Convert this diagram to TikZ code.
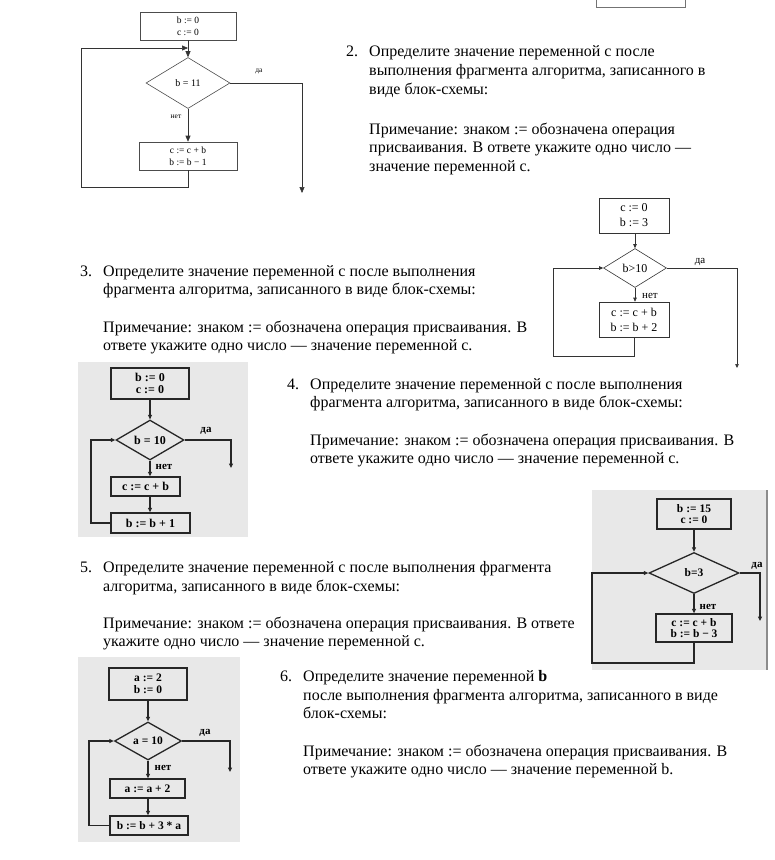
\documentclass[tikz,border=0pt]{standalone}
\usepackage{fontspec}
\setmainfont{Liberation Serif}
\usetikzlibrary{arrows.meta,shapes.geometric}

\tikzset{
  ln/.style={anchor=base west, inner sep=0pt, font=\fontsize{16}{18}\selectfont},
  scan/.style={fill=black!9, draw=none},
  % thin printed charts
  boxA/.style={rectangle, draw=black!70, line width=0.6pt, inner sep=0pt, align=center, font=\fontsize{9.5}{11.7}\selectfont},
  diaA/.style={diamond, draw=black!70, line width=0.6pt, inner sep=0pt, font=\fontsize{10}{11}\selectfont},
  arrA/.style={-{Triangle[length=6pt,width=5pt]}, line width=0.6pt, draw=black!80},
  boxB/.style={rectangle, draw=black!80, line width=0.6pt, inner sep=0pt, align=center, font=\fontsize{12}{15}\selectfont},
  diaB/.style={diamond, draw=black!80, line width=0.6pt, inner sep=0pt, font=\fontsize{12}{13}\selectfont},
  arrB/.style={-{Triangle[length=4pt,width=3.5pt]}, line width=0.6pt, draw=black!80},
  % scanned charts
  boxC/.style={rectangle, draw=black!85, line width=1.3pt, inner sep=0pt, align=center, font=\bfseries\fontsize{12}{12}\selectfont},
  diaC/.style={diamond, draw=black!85, line width=1.3pt, inner sep=0pt, font=\bfseries\fontsize{12}{13}\selectfont},
  boxD/.style={rectangle, draw=black!85, line width=1.3pt, inner sep=0pt, align=center, font=\bfseries\fontsize{11.5}{11.5}\selectfont},
  diaD/.style={diamond, draw=black!85, line width=1.3pt, inner sep=0pt, font=\bfseries\fontsize{11.5}{12}\selectfont},
  arrC/.style={-{Triangle[length=4.5pt,width=4pt]}, line width=1.1pt, draw=black!85},
  lbl/.style={inner sep=0pt, font=\fontsize{7.5}{8}\selectfont},
  lblB/.style={inner sep=0pt, font=\fontsize{11}{12}\selectfont},
  lblC/.style={inner sep=0pt, font=\bfseries\fontsize{11}{12}\selectfont}
}

\begin{document}
\begin{tikzpicture}[x=1pt, y=-1pt]
\useasboundingbox (0,0) rectangle (775,860);

% cut-off box at the top
\draw[black!55, line width=0.6pt] (596,-10) rectangle (685,7);

% scanned backgrounds
\fill[scan] (78,362) rectangle (248,537);
\fill[scan] (592,490) rectangle (768,670);
\draw[black!45, line width=2pt] (767,490) -- (767,670);
\fill[scan] (78,657) rectangle (240,842);

% ---- chart 1
\node[boxA, minimum width=96pt, minimum height=28pt] (b1a) at (188,26) {b := 0\\c := 0};
\node[diaA, minimum width=84pt, minimum height=51pt] (d1) at (188,83) {b = 11};
\node[boxA, minimum width=98pt, minimum height=28pt] (b1b) at (188,156) {c := c + b\\b := b − 1};
\coordinate (l1a) at (81,187);
\coordinate (l1b) at (188,48);
\coordinate (e1) at (302,193);
\draw[arrA] (b1a) -- (d1);
\draw[arrA] (d1) -- (b1b);
\draw[arrA] (b1b.south) |- (l1a) |- (l1b);
\draw[arrA] (d1.east) -| (e1);
\node[lbl] (y1) at (259,71) {да};
\node[lbl] (n1) at (176,117) {нет};

% ---- chart 2
\node[boxB, minimum width=70pt, minimum height=35pt] (b2a) at (634,215.5) {c := 0\\b := 3};
\node[diaB, minimum width=63pt, minimum height=39pt] (d2) at (635,268) {b>10};
\node[boxB, minimum width=70pt, minimum height=35pt] (b2b) at (634,319.5) {c := c + b\\b := b + 2};
\coordinate (l2a) at (553,356);
\coordinate (e2) at (737,368);
\draw[arrB] (b2a.south -| d2.north) -- (d2.north);
\draw[arrB] (d2.south) -- (d2.south |- b2b.north);
\draw[arrB] (b2b.south) |- (l2a) |- (d2.west);
\draw[arrB] (d2.east) -| (e2);
\node[lblB] (y2) at (700,262) {да};
\node[lblB] (n2) at (650,296) {нет};

% ---- chart 3
\node[boxC, minimum width=78pt, minimum height=31pt] (b3a) at (150,383.5) {b := 0\\c := 0};
\node[diaC, minimum width=68pt, minimum height=38pt] (d3) at (150,440) {b = 10};
\node[boxC, minimum width=69pt, minimum height=19pt] (b3b) at (145.5,486.5) {c := c + b};
\node[boxC, minimum width=79pt, minimum height=20pt] (b3c) at (150.5,523) {b := b + 1};
\coordinate (l3) at (91,523);
\coordinate (e3) at (231,468);
\draw[arrC] (b3a) -- (d3);
\draw[arrC] (d3.south) -- (d3.south |- b3b.north);
\draw[arrC] (d3.south |- b3b.south) -- (d3.south |- b3c.north);
\draw[arrC] (b3c.west) -- (l3) |- (d3.west);
\draw[arrC] (d3.east) -| (e3);
\node[lblC] (y3) at (206,431) {да};
\node[lblC] (n3) at (164,467) {нет};

% ---- chart 4
\node[boxD, minimum width=74pt, minimum height=30pt] (b4a) at (694,514) {b := 15\\c := 0};
\node[diaD, minimum width=90pt, minimum height=41pt] (d4) at (694,573) {b=3};
\node[boxD, minimum width=76pt, minimum height=28pt] (b4b) at (694,628) {c := c + b\\b := b − 3};
\coordinate (l4) at (592,663);
\coordinate (e4) at (760,621);
\draw[arrC] (b4a) -- (d4);
\draw[arrC] (d4) -- (b4b);
\draw[arrC] (b4b.south) |- (l4) |- (d4.west);
\draw[arrC] (d4.east) -| (e4);
\node[lblC] (y4) at (757,566) {да};
\node[lblC] (n4) at (708,607) {нет};

% ---- chart 5
\node[boxD, minimum width=78pt, minimum height=32pt] (b5a) at (148,684) {a := 2\\b := 0};
\node[diaD, minimum width=67pt, minimum height=38pt] (d5) at (148,741) {a = 10};
\node[boxD, minimum width=75pt, minimum height=19pt] (b5b) at (147.5,788.5) {a := a + 2};
\node[boxD, minimum width=78pt, minimum height=19pt] (b5c) at (149,825.5) {b := b + 3 * a};
\coordinate (l5) at (89,825.5);
\coordinate (e5) at (230,772);
\draw[arrC] (b5a) -- (d5);
\draw[arrC] (d5.south) -- (d5.south |- b5b.north);
\draw[arrC] (d5.south |- b5b.south) -- (d5.south |- b5c.north);
\draw[arrC] (b5c.west) -- (l5) |- (d5.west);
\draw[arrC] (d5.east) -| (e5);
\node[lblC] (y5) at (205,733) {да};
\node[lblC] (n5) at (163,768) {нет};

% ---- task 2
\node[ln] (t2n) at (346,56.5) {2.};
\node[ln] (t2a) at (369,56.5) {Определите значение переменной с после};
\node[ln] (t2b) at (369,75.5) {выполнения фрагмента алгоритма, записанного в};
\node[ln] (t2c) at (369,94) {виде блок-схемы:};
\node[ln] (t2d) at (369,134) {Примечание: знаком := обозначена операция};
\node[ln] (t2e) at (369,152.5) {присваивания. В ответе укажите одно число —};
\node[ln] (t2f) at (369,171) {значение переменной с.};

% ---- task 3
\node[ln] (t3n) at (80,276) {3.};
\node[ln] (t3a) at (103,276) {Определите значение переменной с после выполнения};
\node[ln] (t3b) at (103,294.5) {фрагмента алгоритма, записанного в виде блок-схемы:};
\node[ln] (t3c) at (103,332) {Примечание: знаком := обозначена операция присваивания. В};
\node[ln] (t3d) at (103,350) {ответе укажите одно число — значение переменной с.};

% ---- task 4
\node[ln] (t4n) at (287,389) {4.};
\node[ln] (t4a) at (310,389) {Определите значение переменной с после выполнения};
\node[ln] (t4b) at (310,407.5) {фрагмента алгоритма, записанного в виде блок-схемы:};
\node[ln] (t4c) at (310,445) {Примечание: знаком := обозначена операция присваивания. В};
\node[ln] (t4d) at (310,463.5) {ответе укажите одно число — значение переменной с.};

% ---- task 5
\node[ln] (t5n) at (80,572.5) {5.};
\node[ln] (t5a) at (103,572.5) {Определите значение переменной с после выполнения фрагмента};
\node[ln] (t5b) at (103,591) {алгоритма, записанного в виде блок-схемы:};
\node[ln] (t5c) at (103,628) {Примечание: знаком := обозначена операция присваивания. В ответе};
\node[ln] (t5d) at (103,646.5) {укажите одно число — значение переменной с.};

% ---- task 6
\node[ln] (t6n) at (280,681.5) {6.};
\node[ln] (t6a) at (303,681.5) {Определите значение переменной \textbf{b}};
\node[ln] (t6b) at (303,700) {после выполнения фрагмента алгоритма, записанного в виде};
\node[ln] (t6c) at (303,718) {блок-схемы:};
\node[ln] (t6d) at (303,756) {Примечание: знаком := обозначена операция присваивания. В};
\node[ln] (t6e) at (303,774) {ответе укажите одно число — значение переменной b.};

\end{tikzpicture}
\end{document}
